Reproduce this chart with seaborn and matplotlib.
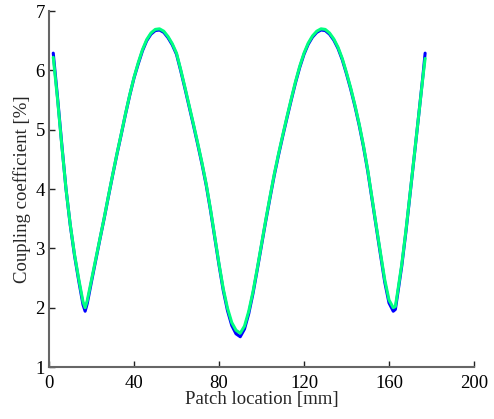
import pandas as pd
import numpy as np
import matplotlib
matplotlib.use('Agg')
import matplotlib.pyplot as plt
import seaborn as sns

# patch location [mm]
x_mm = [2, 4, 6, 8, 10, 12, 14, 16, 17, 18, 20, 22, 24, 26, 28, 30, 32, 34, 36, 38,
        40, 42, 44, 46, 48, 50, 52, 54, 56, 58, 60, 62, 64, 66, 68, 70, 72, 74, 76, 78,
        80, 82, 84, 86, 88, 90, 92, 94, 96, 98, 100, 102, 104, 106, 108, 110, 112, 114, 116, 118,
        120, 122, 124, 126, 128, 130, 132, 134, 136, 138, 140, 142, 144, 146, 148, 150, 152, 154, 156, 158,
        160, 162, 163, 164, 166, 168, 170, 172, 174, 176, 177]

# coupling coefficient [%], two overlapping curves
k_green = [6.22, 5.52, 4.74, 4.00, 3.40, 2.90, 2.48, 2.10, 2.00, 2.12, 2.47, 2.82, 3.17, 3.52, 3.89, 4.25, 4.60, 4.93, 5.27, 5.59,
           5.88, 6.13, 6.35, 6.52, 6.63, 6.69, 6.70, 6.66, 6.57, 6.45, 6.29, 6.01, 5.71, 5.40, 5.09, 4.77, 4.44, 4.08, 3.66, 3.20,
           2.74, 2.32, 1.99, 1.75, 1.62, 1.57, 1.69, 1.94, 2.27, 2.66, 3.07, 3.48, 3.87, 4.25, 4.59, 4.91, 5.22, 5.52, 5.81, 6.07,
           6.29, 6.46, 6.58, 6.66, 6.70, 6.69, 6.63, 6.53, 6.39, 6.20, 5.96, 5.70, 5.41, 5.09, 4.73, 4.32, 3.85, 3.38, 2.92, 2.47,
           2.13, 2.00, 2.02, 2.25, 2.73, 3.31, 3.95, 4.60, 5.25, 5.90, 6.20]

k_blue = [6.29, 5.55, 4.76, 4.00, 3.39, 2.88, 2.45, 2.05, 1.94, 2.07, 2.44, 2.80, 3.16, 3.51, 3.88, 4.24, 4.59, 4.92, 5.26, 5.58,
          5.87, 6.11, 6.33, 6.50, 6.61, 6.67, 6.68, 6.64, 6.55, 6.43, 6.27, 5.99, 5.69, 5.38, 5.07, 4.75, 4.42, 4.06, 3.64, 3.18,
          2.72, 2.29, 1.95, 1.70, 1.56, 1.51, 1.64, 1.90, 2.24, 2.64, 3.05, 3.46, 3.85, 4.23, 4.57, 4.89, 5.20, 5.50, 5.79, 6.05,
          6.27, 6.44, 6.56, 6.64, 6.68, 6.67, 6.61, 6.51, 6.37, 6.18, 5.94, 5.68, 5.39, 5.07, 4.71, 4.30, 3.83, 3.36, 2.89, 2.43,
          2.08, 1.94, 1.97, 2.21, 2.70, 3.29, 3.94, 4.59, 5.25, 5.92, 6.29]

df = pd.DataFrame({'x': x_mm + x_mm,
                   'k': k_blue + k_green,
                   'run': ['a'] * len(x_mm) + ['b'] * len(x_mm)})

sns.set_style('white')
plt.rcParams['font.family'] = ['Liberation Serif', 'DejaVu Serif']

fig = plt.figure(figsize=(4.94, 4.19), dpi=100)
ax = fig.add_axes([0.0992, 0.1241, 0.8603, 0.8496])

sns.lineplot(data=df, x='x', y='k', hue='run', palette=[(0, 0, 1), (0, 1, 0.5)],
             linewidth=2.2, legend=False, ax=ax, sort=False)

ax.set_xlim(0, 200)
ax.set_ylim(1, 7)
ax.set_xticks([0, 40, 80, 120, 160, 200])
ax.set_yticks([1, 2, 3, 4, 5, 6, 7])

for s in ['top', 'right']:
    ax.spines[s].set_visible(False)
for s in ['left', 'bottom']:
    ax.spines[s].set_color('#666666')
    ax.spines[s].set_linewidth(1.5)

ax.tick_params(bottom=True, left=True, direction='in', length=4, width=1,
               colors='#222222', labelsize=13.5, labelcolor='black')
ax.tick_params(axis='x', pad=5.5)
ax.tick_params(axis='y', pad=3)

ax.set_xlabel('Patch location [mm]', fontsize=13.5)
ax.set_ylabel('Coupling coefficient [%]', fontsize=13.5)
ax.xaxis.set_label_coords(0.5, -0.068)
ax.yaxis.set_label_coords(-0.042, 0.5)

fig.savefig('out.png', dpi=100)
